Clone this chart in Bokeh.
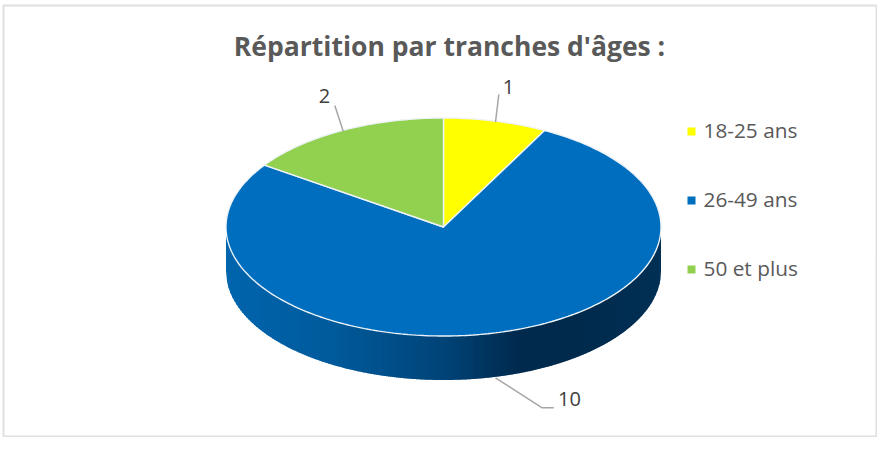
import math
from bokeh.plotting import figure
from bokeh.models import Range1d
from bokeh.core.properties import value
from bokeh.embed import file_html
from bokeh.resources import INLINE

TITLE = "Répartition par tranches d'âges :"
categories = ["18-25 ans", "26-49 ans", "50 et plus"]
values = [1, 10, 2]
colors = ["#FFFF00", "#006EBE", "#92D050"]

CX, CY, RX, RY, DEPTH = 443, 226.5, 217.5, 109, 44
FONT = "Open Sans"
GREY = "#595959"
W, H = 877, 437

p = figure(width=W, height=H, x_range=Range1d(0, W), y_range=Range1d(H, 0),
           output_backend="svg", toolbar_location=None, min_border=0,
           x_axis_location=None, y_axis_location=None,
           background_fill_color="white", border_fill_color="white")
p.grid.visible = False
p.outline_line_color = None

# chart frame
p.line([3, 3, W - 1, W - 1, 3], [H - 1, 5, 5, H - 1, H - 1], line_color="#E0E0E0", line_width=2)


def pt(deg):
    a = math.radians(deg)
    return CX + RX * math.sin(a), CY - RY * math.cos(a)


# side wall: vertical strips shaded from left to right
shade = [(0.0, (0, 101, 173)), (0.25, (0, 90, 155)), (0.50, (0, 68, 120)),
         (0.67, (0, 42, 78)), (0.80, (0, 42, 76)), (1.0, (0, 48, 85))]


def shade_at(t):
    for (t0, c0), (t1, c1) in zip(shade, shade[1:]):
        if t <= t1:
            f = (t - t0) / (t1 - t0)
            return "#%02x%02x%02x" % tuple(round(a + (b - a) * f) for a, b in zip(c0, c1))
    return "#%02x%02x%02x" % shade[-1][1]


xs, ys, cs = [], [], []
n = 218
for i in range(n):
    x0 = CX - RX + 2 * RX * i / n
    x1 = CX - RX + 2 * RX * min(i + 1.6, n) / n
    arc = [x0 + (x1 - x0) * k / 3 for k in range(4)]
    low = [CY + RY * math.sqrt(max(0, 1 - ((v - CX) / RX) ** 2)) for v in arc]
    xs.append(arc + arc[::-1])
    ys.append(low + [v + DEPTH for v in low[::-1]])
    cs.append(shade_at((i + 0.5) / n))
p.patches(xs, ys, fill_color=cs, line_color=None)

# top face, one wedge per value
total = sum(values)
start = 0.0
wx, wy = [], []
for v in values:
    end = start + 360 * v / total
    steps = max(2, int(end - start))
    pts = [pt(start + (end - start) * k / steps) for k in range(steps + 1)]
    wx.append([CX] + [q[0] for q in pts])
    wy.append([CY] + [q[1] for q in pts])
    start = end
p.patches(wx, wy, fill_color=colors, line_color="#EDF3F8", line_width=1.4)

# leader lines and data labels
p.line([495, 498.3], [121.7, 94], line_color="#A6A6A6", line_width=1.5)
p.line([342.7, 334.3], [130.7, 105], line_color="#A6A6A6", line_width=1.5)
p.line([495, 541.7, 553.3], [377.3, 407.3, 407.3], line_color="#A6A6A6", line_width=1.5)
p.text([508, 324, 569], [86, 95, 398], text=[str(v) for v in [values[0], values[2], values[1]]],
       text_font=value(FONT), text_font_size="20px", text_color="#404040",
       text_align="center", text_baseline="middle")

# title
p.text([449], [45.5], text=[TITLE], text_font=value(FONT), text_font_style="bold",
       text_font_size="26.5px", text_color=GREY, text_align="center", text_baseline="middle")

# legend
ly = [131, 200, 269]
p.scatter([691] * 3, ly, marker="square", size=8, fill_color=colors, line_color=None)
p.text([703] * 3, [v - 2 for v in ly], text=categories, text_font=value(FONT), text_font_size="20.8px",
       text_color=GREY, text_align="left", text_baseline="middle")

open("out.html", "w").write(file_html(p, INLINE))
